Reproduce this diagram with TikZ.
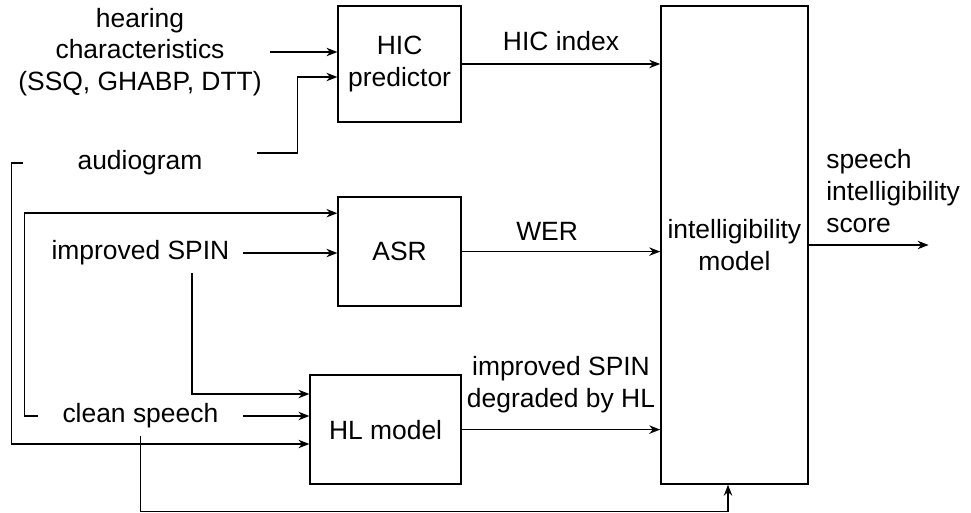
\documentclass[tikz,border=0pt]{standalone}
\usepackage{fontspec}
\setmainfont{Liberation Sans}
\usepackage{tikz}
\usetikzlibrary{arrows.meta,calc,positioning}
\tikzset{
  flow/.style={-{Stealth[length=7.8pt,width=6pt]},line width=1pt},
  block/.style={draw,line width=1pt,align=center,inner sep=2pt},
  lbl/.style={align=center,inner sep=0pt}
}

\begin{document}
\begin{tikzpicture}[font=\fontsize{18.8}{22.5}\selectfont]
  \useasboundingbox (0,0) rectangle (24.275,-12.825);
  % processing blocks
  \node[block,minimum width=3.075cm,minimum height=2.9cm] (hic) at (9.99,-1.6) {HIC\\predictor};
  \node[block,minimum width=3.075cm,minimum height=2.725cm] (asr) at (9.99,-6.29) {ASR};
  \node[block,minimum width=3.775cm,minimum height=2.725cm] (hl) at (9.64,-10.74) {HL model};
  \node[block,minimum width=3.675cm,minimum height=11.95cm] (im) at (18.36,-6.125) {intelligibility\\model};
  % inputs
  \node[lbl,minimum width=6.5cm] (hc) at (3.5,-1.3) {hearing\\characteristics\\(SSQ, GHABP, DTT)};
  \node[lbl,minimum width=5.85cm] (aud) at (3.5,-4.075) {audiogram};
  \node[lbl,minimum width=5.125cm,minimum height=1cm] (spin) at (3.51,-6.325) {improved SPIN};
  \node[lbl,minimum width=5.125cm,minimum height=1cm] (cs) at (3.51,-10.4) {clean speech};
  % connectors into the blocks
  \draw[flow] (hc.east) -- (hc.east -| hic.west);
  \draw[flow] ([yshift=0.25cm]aud.east) -- ++(1,0) |- ([yshift=-0.325cm]hic.west);
  \draw[flow] (aud.west) -- ++(-0.275,0) |- ([yshift=-0.36cm]hl.west);
  \draw[flow] (cs.west) -- ++(-0.325,0) |- ([yshift=0.96cm]asr.west);
  \draw[flow] (spin.east) -- (spin.east -| asr.west);
  \draw[flow] ([xshift=1.29cm]spin.south) |- ([yshift=0.89cm]hl.west);
  \draw[flow] (cs.east) -- (cs.east -| hl.west);
  \draw[flow] (cs.south) -- ++(0,-1.875) -| ([xshift=-0.16cm]im.south);
  % outputs
  \draw[flow] (hic.east) -- (hic.east -| im.west) node[lbl,midway,above=0.32cm] {HIC index};
  \draw[flow] (asr.east) -- (asr.east -| im.west) node[lbl,pos=0.43,above=0.25cm] {WER};
  \draw[flow] (hl.east) -- (hl.east -| im.west) node[lbl,midway,above=0.4cm] {improved SPIN\\degraded by HL};
  \draw[flow] (im.east) -- ++(3,0) node[lbl,pos=0,anchor=south west,align=left,xshift=0.425cm,yshift=0.3cm] {speech\\intelligibility\\score};
\end{tikzpicture}
\end{document}
